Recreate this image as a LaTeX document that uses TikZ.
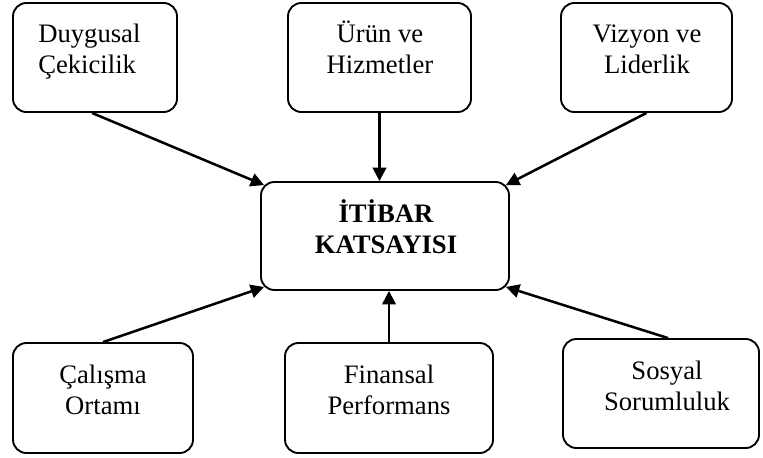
\documentclass[tikz,border=0pt]{standalone}
\usepackage{fontspec}
\setmainfont{Liberation Serif}
\usetikzlibrary{arrows.meta,calc}
\begin{document}
\begin{tikzpicture}[x=0.75pt,y=-0.75pt,
  box/.style={draw, line width=1.4pt, rounded corners=10pt, minimum height=81.75pt, inner sep=0pt},
  lbl/.style={font=\fontsize{20}{23.25}\selectfont, align=center, inner sep=0pt, anchor=base},
  link/.style={line width=1.9pt, -{Triangle[length=10pt,width=10pt]}}]
  \useasboundingbox (0,0) rectangle (763,457);

  % frames
  \node[box, minimum width=123pt]    (b1) at (95,57.5) {};
  \node[box, minimum width=137.25pt] (b2) at (379.5,57.5) {};
  \node[box, minimum width=128.25pt] (b3) at (646.5,57.5) {};
  \node[box, minimum width=186pt, minimum height=81pt] (c) at (385,236) {};
  \node[box, minimum width=135pt, minimum height=82.5pt] (b4) at (103,398) {};
  \node[box, minimum width=156pt, minimum height=82.5pt] (b5) at (389,398) {};
  \node[box, minimum width=147pt] (b6) at (661,393.5) {};

  % labels (base = last line)
  \node[lbl, align=left, anchor=base west] (t1) at (38,73) {Duygusal\\Çekicilik};
  \node[lbl] (t2) at (380,73) {Ürün ve\\Hizmetler};
  \node[lbl] (t3) at (647,73) {Vizyon ve\\Liderlik};
  \node[lbl, font=\fontsize{20}{23.25}\selectfont\bfseries] (tc) at (386,253) {İTİBAR\\KATSAYISI};
  \node[lbl] (t4) at (103,414) {Çalışma\\Ortamı};
  \node[lbl] (t5) at (389,414) {Finansal\\Performans};
  \node[lbl] (t6) at (667,410) {Sosyal\\Sorumluluk};

  % connectors
  \draw[link] ($(b1.south)+(-3,0)$) -- ($(c.north west)+(4,4)$);
  \draw[link] (b2.south) -- (b2.south |- c.north);
  \draw[link] (b3.south) -- ($(c.north east)+(-4,4)$);
  \draw[link] (b4.north) -- ($(c.south west)+(4,-4)$);
  \draw[link] (b5.north) -- (b5.north |- c.south);
  \draw[link] ($(b6.north)+(7,0)$) -- ($(c.south east)+(-4,-4)$);
\end{tikzpicture}
\end{document}
